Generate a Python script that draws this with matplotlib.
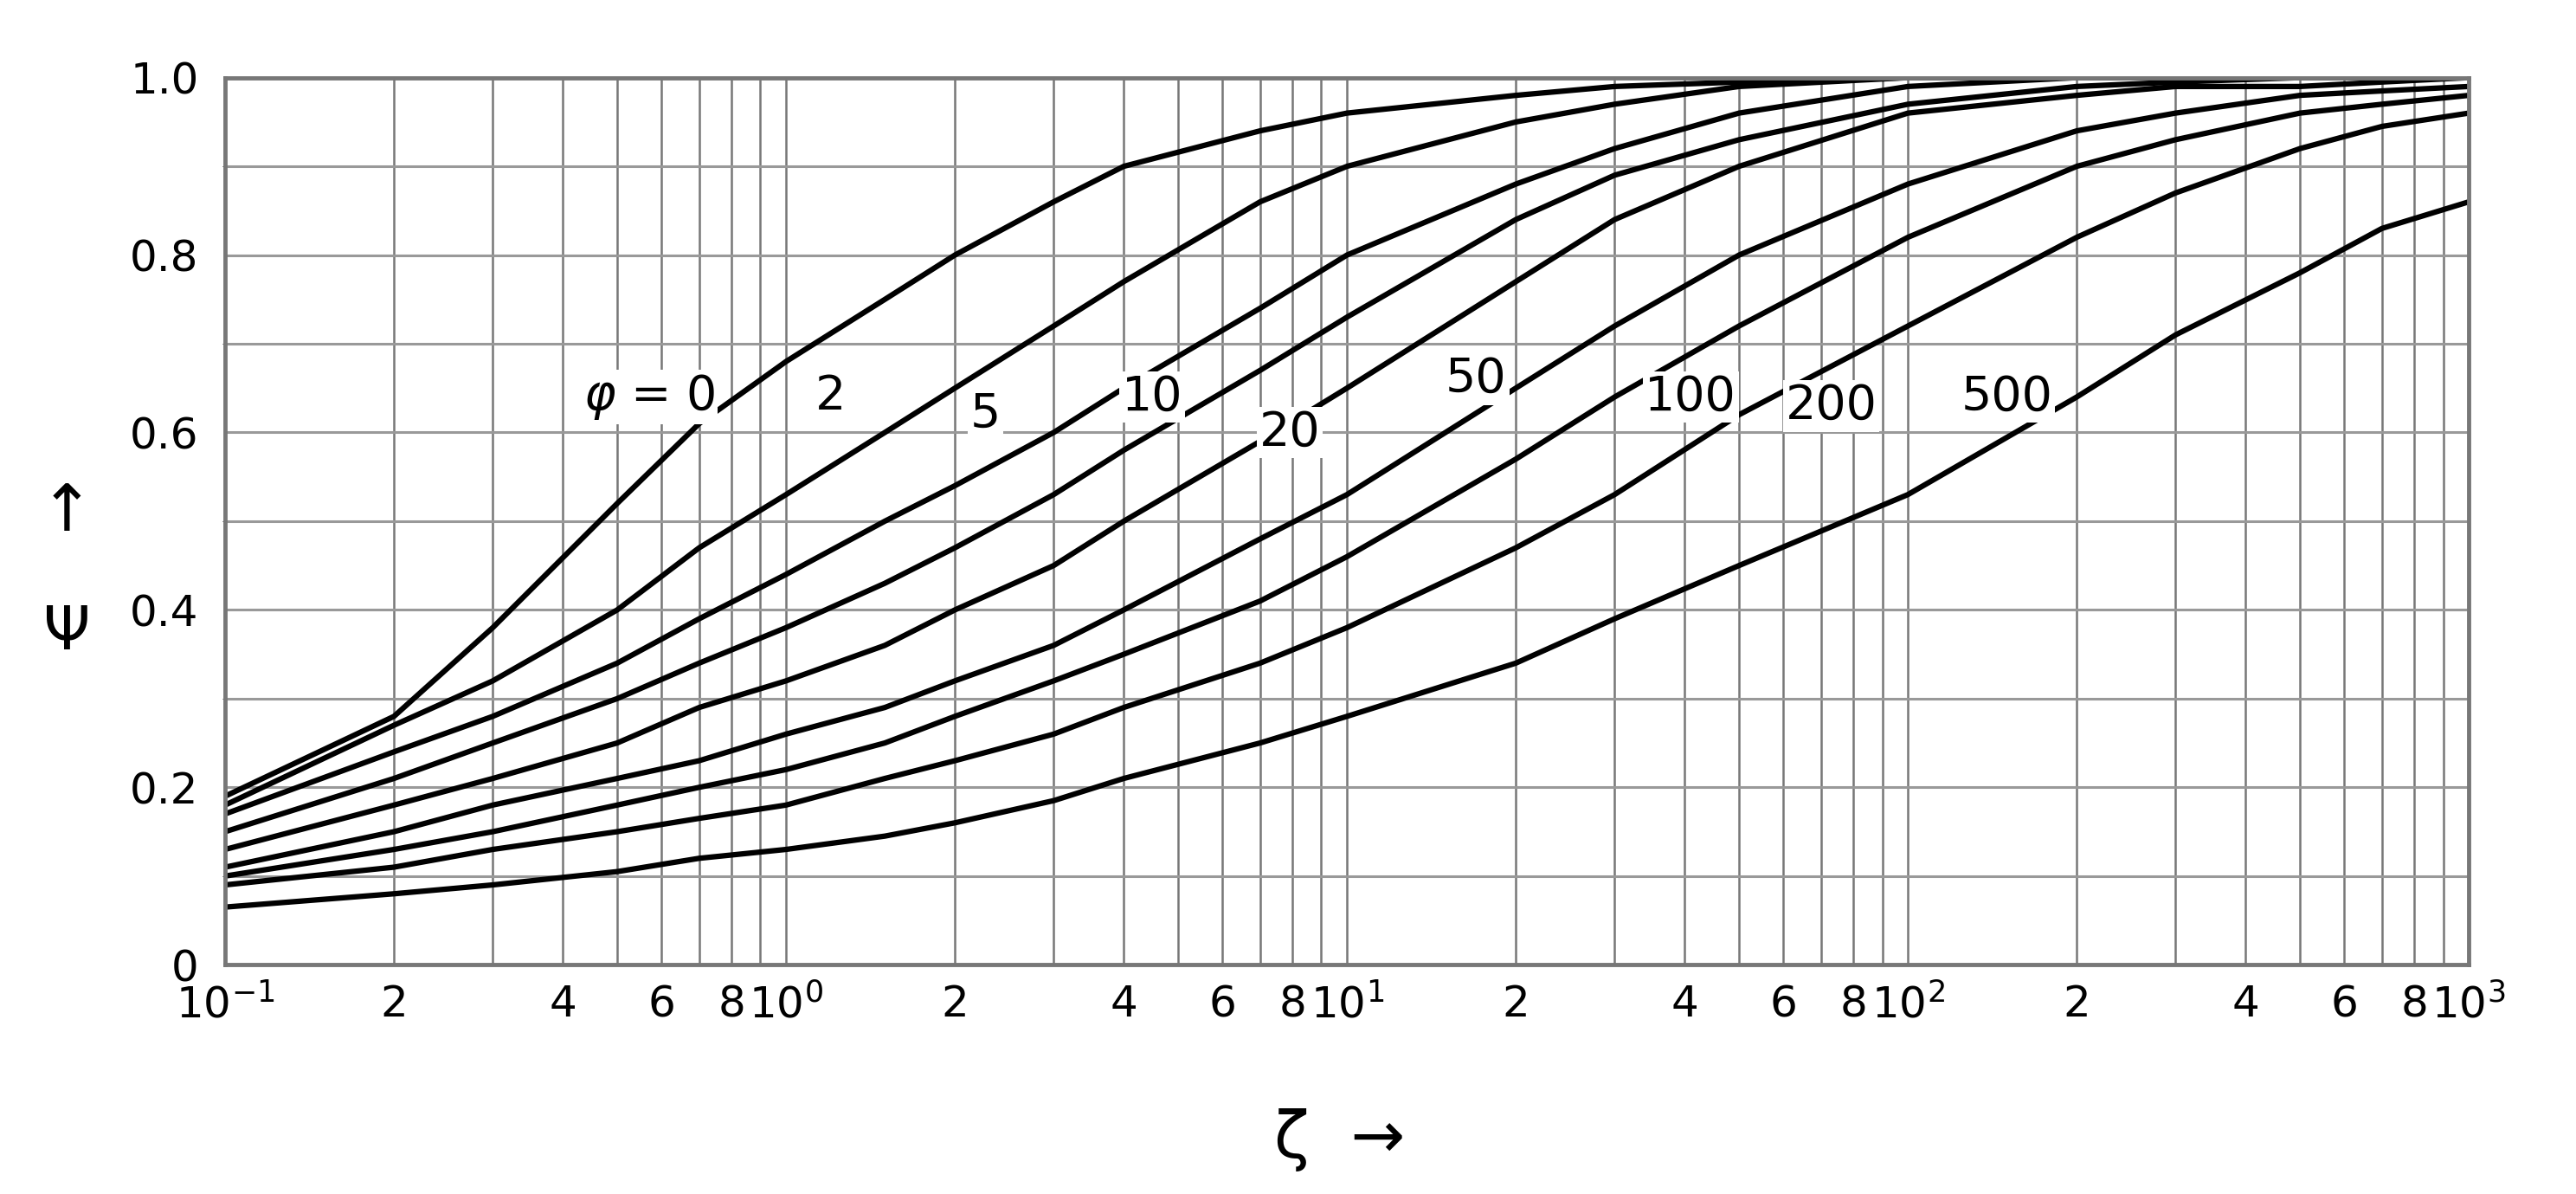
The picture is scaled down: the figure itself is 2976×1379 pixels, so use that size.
import matplotlib.pyplot as plt
import numpy as np
from matplotlib.ticker import FixedLocator, MultipleLocator

zeta = [0.1, 0.2, 0.3, 0.5, 0.7, 1, 1.5, 2, 3, 4, 7, 10, 20, 30, 50, 100, 200, 300, 500, 700, 1000]

psi_0 = [0.19, 0.28, 0.38, 0.52, 0.61, 0.68, 0.75, 0.80, 0.86, 0.90, 0.94, 0.96, 0.98, 0.99, 0.995, 1.0, 1.0, 1.0, 1.0, 1.0, 1.0]
psi_2 = [0.18, 0.27, 0.32, 0.40, 0.47, 0.53, 0.60, 0.65, 0.72, 0.77, 0.86, 0.90, 0.95, 0.97, 0.99, 1.0, 1.0, 1.0, 1.0, 1.0, 1.0]
psi_5 = [0.17, 0.24, 0.28, 0.34, 0.39, 0.44, 0.50, 0.54, 0.60, 0.65, 0.74, 0.80, 0.88, 0.92, 0.96, 0.99, 1.0, 1.0, 1.0, 1.0, 1.0]
psi_10 = [0.15, 0.21, 0.25, 0.30, 0.34, 0.38, 0.43, 0.47, 0.53, 0.58, 0.67, 0.73, 0.84, 0.89, 0.93, 0.97, 0.99, 0.995, 1.0, 1.0, 1.0]
psi_20 = [0.13, 0.18, 0.21, 0.25, 0.29, 0.32, 0.36, 0.40, 0.45, 0.50, 0.59, 0.65, 0.77, 0.84, 0.90, 0.96, 0.98, 0.99, 0.99, 0.995, 1.0]
psi_50 = [0.11, 0.15, 0.18, 0.21, 0.23, 0.26, 0.29, 0.32, 0.36, 0.40, 0.48, 0.53, 0.65, 0.72, 0.80, 0.88, 0.94, 0.96, 0.98, 0.985, 0.99]
psi_100 = [0.10, 0.13, 0.15, 0.18, 0.20, 0.22, 0.25, 0.28, 0.32, 0.35, 0.41, 0.46, 0.57, 0.64, 0.72, 0.82, 0.90, 0.93, 0.96, 0.97, 0.98]
psi_200 = [0.09, 0.11, 0.13, 0.15, 0.165, 0.18, 0.21, 0.23, 0.26, 0.29, 0.34, 0.38, 0.47, 0.53, 0.62, 0.72, 0.82, 0.87, 0.92, 0.945, 0.96]
psi_500 = [0.065, 0.08, 0.09, 0.105, 0.12, 0.13, 0.145, 0.16, 0.185, 0.21, 0.25, 0.28, 0.34, 0.39, 0.45, 0.53, 0.64, 0.71, 0.78, 0.83, 0.86]

curves = [psi_0, psi_2, psi_5, psi_10, psi_20, psi_50, psi_100, psi_200, psi_500]
labels = [r'$\varphi$ = 0', '2', '5', '10', '20', '50', '100', '200', '500']
label_x = [0.57, 1.2, 2.27, 4.5, 7.9, 17, 41, 73, 150]
label_y = [0.64, 0.64, 0.62, 0.64, 0.60, 0.66, 0.64, 0.63, 0.64]

fig = plt.figure(figsize=(29.76, 13.79), dpi=100)
ax = fig.add_axes([0.0874, 0.192, 0.871, 0.743])

for c in curves:
    ax.plot(zeta, c, color='black', lw=4.5, solid_capstyle='round', solid_joinstyle='round')

for t, x, y in zip(labels, label_x, label_y):
    ax.text(x, y, t, fontsize=40, ha='center', va='center',
            bbox=dict(facecolor='white', edgecolor='none', pad=2))

ax.set_xscale('log')
ax.set_xlim(0.1, 1000)
ax.set_ylim(0, 1)

major = []
for d in [0.1, 1, 10, 100]:
    major += [d * k for k in range(1, 10)]
major.append(1000)
ax.xaxis.set_major_locator(FixedLocator(major))
tick_labels = []
exps = {0.1: r'$10^{-1}$', 1: r'$10^{0}$', 10: r'$10^{1}$', 100: r'$10^{2}$', 1000: r'$10^{3}$'}
for m in major:
    key = round(m, 6)
    if key in exps:
        tick_labels.append(exps[key])
    else:
        k = int(round(m / 10 ** np.floor(np.log10(m) + 1e-9)))
        tick_labels.append(str(k) if k in (2, 4, 6, 8) else '')
ax.set_xticklabels(tick_labels)
ax.xaxis.set_minor_locator(FixedLocator([]))

ax.yaxis.set_major_locator(FixedLocator([0, 0.2, 0.4, 0.6, 0.8, 1.0]))
ax.set_yticklabels(['0', '0.2', '0.4', '0.6', '0.8', '1.0'])
ax.yaxis.set_minor_locator(MultipleLocator(0.1))

ax.grid(True, which='major', axis='x', color='#777777', lw=1.8)
ax.grid(True, which='both', axis='y', color='#999999', lw=2.2)
ax.tick_params(axis='x', length=0, labelsize=36, pad=16)
ax.tick_params(axis='y', length=0, labelsize=36, pad=22)
for s in ax.spines.values():
    s.set_color('#777777')
    s.set_linewidth(3.5)

fig.text(0.026, 0.57, '\u2191', fontsize=54, ha='center', va='center')
fig.text(0.026, 0.47, '\u03a8', fontsize=50, ha='center', va='center')
fig.text(0.52, 0.045, '\u03b6  \u2192', fontsize=54, ha='center', va='center')

fig.savefig('out.png', dpi=100)
